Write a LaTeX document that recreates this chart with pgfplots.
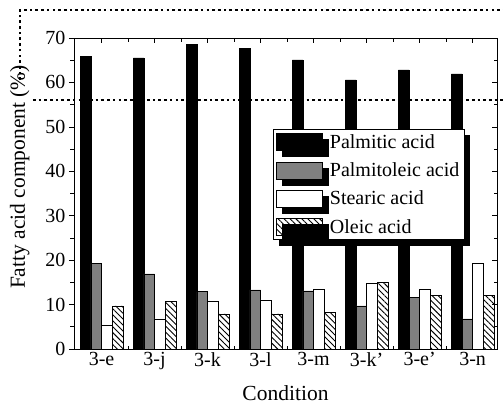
\documentclass[border=0pt]{standalone}
\usepackage{fontspec}
\setmainfont{Liberation Serif}
\usepackage{pgfplots}
\pgfplotsset{compat=1.18}
\usetikzlibrary{patterns,patterns.meta,shadows}
\definecolor{midgray}{RGB}{128,128,128}
\newcommand{\bigf}{\fontsize{20bp}{24bp}\selectfont}
\newcommand{\labf}{\fontsize{21.5bp}{25bp}\selectfont}
\pgfplotsset{mylegimg/.style={legend image code/.code={\draw[##1] (0bp,-8.5bp) rectangle (46bp,8.5bp);}}}
\begin{document}
\begin{tikzpicture}
\path[use as bounding box] (-74bp,-55bp) rectangle (429bp,349bp);
\begin{axis}[
  at={(0,0)}, anchor=south west,
  scale only axis, width=423bp, height=311bp,
  /pgf/number format/assume math mode=true,
  tick label style={font=\bigf},
  xmin=-0.52, xmax=7.46, ymin=0, ymax=70,
  ybar=0pt, bar width=0.2,
  xtick={0,...,7},
  xticklabels={3-e,3-j,3-k,3-l,3-m,3-k',3-e',3-n},
  minor xtick={0.5,1.5,...,6.5},
  xtick align=inside,
  ytick={0,10,...,70},
  minor ytick={5,15,...,65},
  ytick align=outside,
  ytick pos=left,
  major tick length=5bp, minor tick length=3.5bp,
  tick style={black, line width=0.6bp},
  axis line style={line width=0.8bp},
  xlabel={Condition},
  ylabel={Fatty acid component (\%)},
  every axis x label/.style={at={(axis description cs:0.5,0)}, anchor=center, yshift=-44bp, font=\labf},
  every axis y label/.style={at={(axis description cs:-0.128,0.553)}, rotate=90, anchor=center, font=\labf},
  legend style={at={(axis description cs:0.4705,0.7074)}, anchor=north west,
    draw=black, line width=0.8bp, fill=white,
    drop shadow={shadow xshift=6bp, shadow yshift=-6bp, fill=black, opacity=1},
    font=\bigf, inner xsep=3bp, inner ysep=3bp,
    row sep=9bp,
    /tikz/every odd column/.append style={column sep=5bp}},
  legend cell align=left,
]
\addplot[fill=black, draw=black, line width=0.5bp, bar shift=-0.3, mylegimg] coordinates {
 (0,65.8) (1,65.5) (2,68.6) (3,67.7) (4,65.1) (5,60.6) (6,62.8) (7,61.9)};
\addplot[fill=midgray, draw=black, line width=0.5bp, bar shift=-0.1, mylegimg] coordinates {
 (0,19.2) (1,16.9) (2,12.9) (3,13.3) (4,13.1) (5,9.7) (6,11.65) (7,6.8)};
\addplot[fill=white, draw=black, line width=0.5bp, bar shift=0.1, mylegimg] coordinates {
 (0,5.4) (1,6.8) (2,10.8) (3,11.05) (4,13.4) (5,14.7) (6,13.45) (7,19.2)};
\addplot[pattern={Lines[angle=-45, distance=4.2bp, line width=0.9bp]}, draw=black, line width=0.5bp, bar shift=0.3, mylegimg] coordinates {
 (0,9.7) (1,10.8) (2,7.9) (3,7.9) (4,8.3) (5,15.0) (6,12.1) (7,12.1)};
\legend{Palmitic acid, Palmitoleic acid, Stearic acid, Oleic acid}
\end{axis}
\begin{axis}[
  at={(0,0)}, anchor=south west,
  scale only axis, width=423bp, height=311bp,
  xmin=-0.52, xmax=7.46, ymin=0, ymax=70,
  axis x line=none, axis y line*=right,
  xtick=\empty,
  ytick={0,10,...,70}, minor ytick={5,15,...,65},
  yticklabels={},
  ytick align=inside,
  major tick length=5bp, minor tick length=3.5bp,
  tick style={black, line width=0.6bp},
  axis line style={line width=0.8bp, -},
]
\end{axis}
\draw[line width=2.6bp, dash pattern=on 2.6bp off 3.1bp] (-54bp,269bp) -- (-54bp,339bp) -- (429bp,339bp);
\draw[line width=2.6bp, dash pattern=on 2.6bp off 3.1bp] (-41bp,249bp) -- (429bp,249bp);
\end{tikzpicture}
\end{document}
